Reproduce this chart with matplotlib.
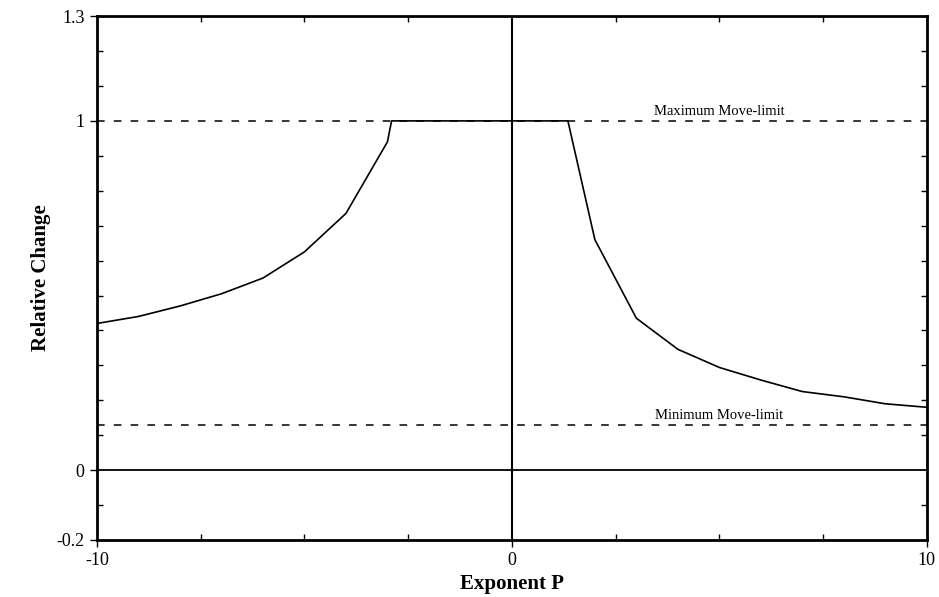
import matplotlib.pyplot as plt
from matplotlib.ticker import MultipleLocator

plt.rcParams['font.family'] = ['Liberation Serif', 'DejaVu Serif']

# Relative change curve
exponent_p = [-10, -9, -8, -7, -6, -5, -4, -3, -2.9, 0, 1.35, 2, 3, 4, 5, 6, 7, 8, 9, 10]
relative_change = [0.42, 0.44, 0.47, 0.505, 0.55, 0.625, 0.735, 0.94, 1.0, 1.0, 1.0,
                   0.66, 0.435, 0.346, 0.294, 0.258, 0.225, 0.21, 0.19, 0.18]

max_move_limit = 1.0
min_move_limit = 0.13
x_ticks = [-10, 0, 10]
y_ticks = [-0.2, 0, 1, 1.3]
y_tick_labels = ["-0.2", "0", "1", "1.3"]

fig = plt.figure(figsize=(9.39, 5.97), dpi=100)
ax = fig.add_axes([0.1033, 0.0955, 0.8837, 0.8775])

ax.plot(exponent_p, relative_change, color="black", linewidth=1.2)

# move limits
ax.axhline(max_move_limit, color="black", linestyle=(0, (5, 6)), linewidth=1.1)
ax.axhline(min_move_limit, color="black", linestyle=(0, (5, 6)), linewidth=1.1)
ax.text(5, max_move_limit + 0.008, "Maximum Move-limit", ha="center", va="bottom", fontsize=10.5)
ax.text(5, min_move_limit + 0.008, "Minimum Move-limit", ha="center", va="bottom", fontsize=10.5)

# zero lines
ax.axhline(0, color="black", linewidth=1.3)
ax.axvline(0, color="black", linewidth=1.5)

ax.set_xlim(-10, 10)
ax.set_ylim(-0.2, 1.3)
ax.set_xticks(x_ticks)
ax.set_xticklabels([str(t) for t in x_ticks])
ax.set_yticks(y_ticks)
ax.set_yticklabels(y_tick_labels)
ax.xaxis.set_minor_locator(MultipleLocator(2.5))
ax.yaxis.set_minor_locator(MultipleLocator(0.1))
ax.tick_params(which="major", direction="out", length=5, width=1, labelsize=13, pad=4)
ax.tick_params(which="minor", direction="in", length=4, width=1,
               top=True, right=True)

for side in ax.spines.values():
    side.set_linewidth(2)

ax.set_xlabel("Exponent P", fontsize=15, fontweight="bold", labelpad=3)
ax.set_ylabel("Relative Change", fontsize=15, fontweight="bold", labelpad=4)

fig.savefig("out.png", dpi=100)
